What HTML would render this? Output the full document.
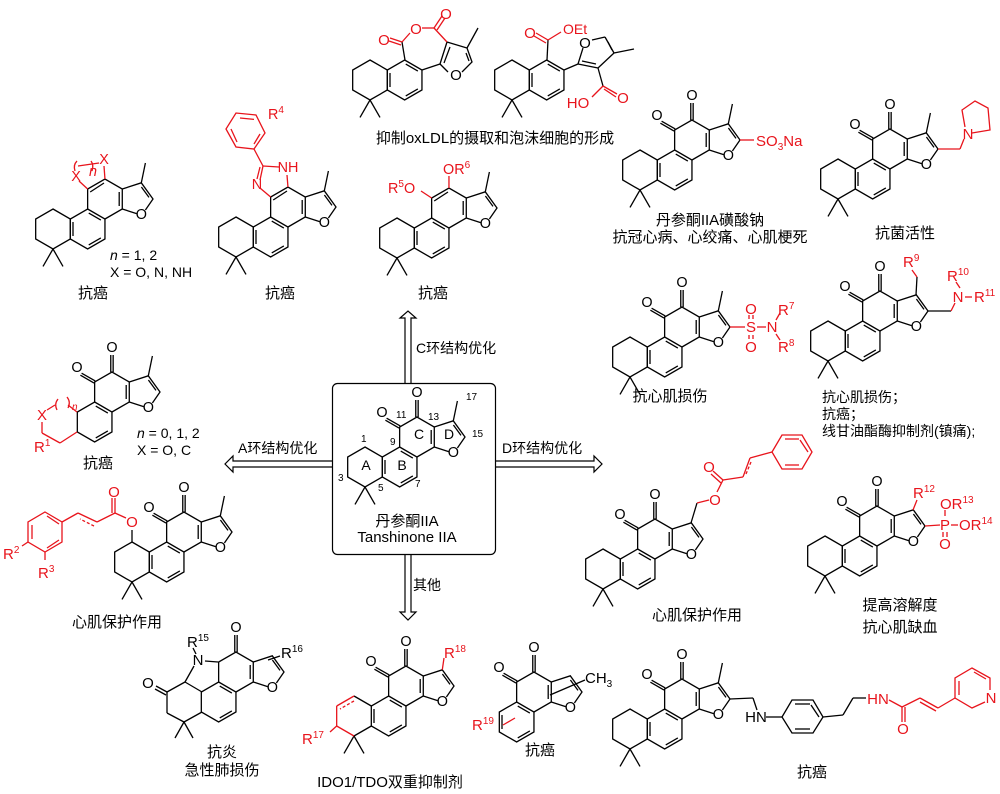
<!DOCTYPE html>
<html><head><meta charset="utf-8"><style>
html,body{margin:0;padding:0;background:#fff;}
svg{display:block;font-family:"Liberation Sans","Noto Sans CJK SC",sans-serif;}
.a{font-size:0.72px;text-anchor:middle;dominant-baseline:central;}
.t{font-size:15px;text-anchor:middle;}
.s{font-size:14px;}
.st{text-anchor:start;}
.r{fill:#e8141c;}
.ln{stroke:#000;stroke-width:1.3;fill:none;}
.rl{stroke:#e8141c;stroke-width:1.3;fill:none;}
.sub{font-size:10px;}
</style></head><body>
<svg width="1000" height="794" viewBox="0 0 1000 794" xmlns="http://www.w3.org/2000/svg">
<defs>
<g id="ab" stroke="#000" stroke-width="0.065" fill="none">
<polygon points="0,-1 0.866,-0.5 0.866,0.5 0,1 -0.866,0.5 -0.866,-0.5"/>
<polygon points="1.732,-1 2.598,-0.5 2.598,0.5 1.732,1 0.866,0.5 0.866,-0.5"/>
<line x1="1.0" y1="-0.35" x2="1.0" y2="0.35"/>
<line x1="2.393" y1="0.445" x2="1.787" y2="0.795"/>
<line x1="1.787" y1="-0.795" x2="2.393" y2="-0.445"/>
<line x1="0" y1="1" x2="-0.5" y2="1.87"/><line x1="0" y1="1" x2="0.5" y2="1.87"/>
</g>
<g id="b" stroke="#000" stroke-width="0.065" fill="none">
<polygon points="1.732,-1 2.598,-0.5 2.598,0.5 1.732,1 0.866,0.5 0.866,-0.5"/>
<line x1="2.393" y1="0.445" x2="1.787" y2="0.795"/>
<line x1="1.787" y1="-0.795" x2="2.393" y2="-0.445"/>
</g>
<g id="c" stroke="#000" stroke-width="0.065" fill="none">
<polyline points="1.732,-1 1.732,-2 2.598,-2.5 3.464,-2 3.464,-1 2.598,-0.5"/>
<line x1="3.31" y1="-1.85" x2="3.31" y2="-1.15"/>
</g>
<g id="ca" stroke="#000" stroke-width="0.065" fill="none">
<line x1="1.86" y1="-1.85" x2="2.55" y2="-2.3"/>
</g>
<g id="co" stroke="#000" stroke-width="0.065" fill="none">
<line x1="1.762" y1="-2.052" x2="1.08" y2="-2.44"/><line x1="1.702" y1="-1.948" x2="1.02" y2="-2.34"/>
<line x1="2.538" y1="-2.5" x2="2.538" y2="-3.35"/><line x1="2.658" y1="-2.5" x2="2.658" y2="-3.35"/>
</g>
<g id="fu" stroke="#000" stroke-width="0.065" fill="none">
<polyline points="3.464,-2 4.415,-2.309 5,-1.5 4.62,-0.95"/>
<line x1="3.464" y1="-1" x2="4.18" y2="-0.77"/>
<line x1="4.42" y1="-2.1" x2="4.8" y2="-1.58"/>
</g>
<g id="me" stroke="#000" stroke-width="0.065"><line x1="4.415" y1="-2.309" x2="4.62" y2="-3.3"/></g>
</defs>

<path d="M405,383 V318 H400 L408,311 L416,318 H411 V383" fill="#fff" stroke="#000" stroke-width="1.2"/>
<path d="M332,461 H233 V456 L225,464 L233,472 V467 H332" fill="#fff" stroke="#000" stroke-width="1.2"/>
<path d="M496,461 H594 V456 L602,464 L594,472 V467 H496" fill="#fff" stroke="#000" stroke-width="1.2"/>
<path d="M405,555 V612 H400 L408,620 L416,612 H411 V555" fill="#fff" stroke="#000" stroke-width="1.2"/>
<text x="238" y="453" class="s">A环结构优化</text>
<text x="416" y="353" class="s">C环结构优化</text>
<text x="502" y="453" class="s">D环结构优化</text>
<text x="413" y="590" class="s">其他</text>

<rect x="332.5" y="383.5" width="163" height="171" rx="5" fill="#fff" stroke="#000" stroke-width="1.2"/>
<g transform="translate(365,467) scale(20)"><use href="#ab"/><use href="#c"/><use href="#co"/><use href="#fu"/><use href="#me"/>
<text class="a" x="0.85" y="-2.7">O</text><text class="a" x="2.6" y="-3.7">O</text><text class="a" x="4.415" y="-0.69">O</text></g>
<g font-size="10">
<text x="361" y="442">1</text><text x="338" y="481">3</text><text x="378" y="491">5</text><text x="415" y="487">7</text><text x="390" y="445">9</text><text x="396" y="418">11</text><text x="428" y="420">13</text><text x="472" y="437">15</text><text x="466" y="400">17</text></g>
<g font-size="14" text-anchor="middle"><text x="366" y="470">A</text><text x="402" y="470">B</text><text x="419" y="439">C</text><text x="449" y="439">D</text></g>
<text x="407" y="526" class="t">丹参酮IIA</text>
<text x="407" y="542" class="t">Tanshinone IIA</text>

<g transform="translate(53,229) scale(20)"><use href="#ab"/><use href="#c"/><use href="#ca"/><use href="#fu"/><use href="#me"/>
<text class="a" x="4.415" y="-0.69">O</text>
<g stroke="#e8141c" stroke-width="0.065" fill="none"><line x1="1.732" y1="-2" x2="1.3" y2="-2.4"/><line x1="2.598" y1="-2.5" x2="2.55" y2="-3.15"/>
<path d="M1.1,-2.9 Q1.0,-3.2 1.2,-3.4"/><path d="M1.9,-3.4 Q2.05,-3.2 1.95,-2.9"/><line x1="1.25" y1="-3.15" x2="2.3" y2="-3.3"/></g>
<text class="a r" x="1.15" y="-2.6">X</text><text class="a r" x="2.55" y="-3.45">X</text>
<text class="a r" x="2.0" y="-2.85" font-style="italic" font-size="0.5">n</text></g>
<text x="110" y="260" class="s"><tspan font-style="italic">n</tspan> = 1, 2</text>
<text x="110" y="277" class="s">X = O, N, NH</text>
<text x="93" y="298" class="t">抗癌</text>

<g transform="translate(236,237) scale(20)"><use href="#ab"/><use href="#c"/><use href="#ca"/><use href="#fu"/><use href="#me"/>
<text class="a" x="4.415" y="-0.69">O</text>
<g stroke="#e8141c" stroke-width="0.065" fill="none"><line x1="1.732" y1="-2" x2="1.2" y2="-2.45"/><line x1="2.598" y1="-2.5" x2="2.55" y2="-3.1"/>
<line x1="1.2" y1="-2.85" x2="1.35" y2="-3.55"/><line x1="1.05" y1="-2.9" x2="1.2" y2="-3.5"/><line x1="1.35" y1="-3.55" x2="2.15" y2="-3.5"/>
<line x1="1.35" y1="-3.55" x2="0.9" y2="-4.4"/>
<polygon points="0.9,-4.4 1.45,-5.2 1.0,-6.1 0,-6.2 -0.5,-5.4 0,-4.5"/>
<line x1="0.2" y1="-5.95" x2="0.9" y2="-5.88"/><line x1="1.2" y1="-5.15" x2="0.9" y2="-4.65"/><line x1="-0.25" y1="-5.4" x2="0.05" y2="-4.75"/></g>
<text class="a r" x="1.05" y="-2.6">N</text><text class="a r" x="2.6" y="-3.45">NH</text>
<text class="r" x="1.6" y="-5.9" font-size="0.72">R<tspan font-size="0.5" dy="-0.3">4</tspan></text></g>
<text x="280" y="298" class="t">抗癌</text>

<g transform="translate(397,238) scale(20)"><use href="#ab"/><use href="#c"/><use href="#ca"/><use href="#fu"/><use href="#me"/>
<text class="a" x="4.415" y="-0.69">O</text>
<g stroke="#e8141c" stroke-width="0.065"><line x1="1.732" y1="-2" x2="1.2" y2="-2.35"/><line x1="2.598" y1="-2.5" x2="2.598" y2="-3.1"/></g>
<text class="r" x="-0.45" y="-2.25" font-size="0.72">R<tspan font-size="0.5" dy="-0.3">5</tspan><tspan dy="0.3">O</tspan></text>
<text class="r" x="2.3" y="-3.2" font-size="0.72">OR<tspan font-size="0.5" dy="-0.3">6</tspan></text></g>
<text x="433" y="298" class="t">抗癌</text>

<g transform="translate(370,80) scale(20)"><use href="#ab"/></g>
<g class="ln"><line x1="405" y1="60" x2="402" y2="42"/><polyline points="422,70 440,64"/>
<polyline points="447,42 467,48 472,62 462,72"/><line x1="440" y1="64" x2="448" y2="72"/><line x1="447" y1="42" x2="440" y2="64"/><line x1="450" y1="47" x2="444" y2="63"/><line x1="467" y1="48" x2="478" y2="28"/><line x1="466" y1="53" x2="469" y2="61"/></g>
<g class="rl"><line x1="402" y1="42" x2="410" y2="33"/><line x1="422" y1="28" x2="434" y2="28"/><line x1="434" y1="28" x2="447" y2="42"/><line x1="434" y1="28" x2="442" y2="16"/><line x1="437" y1="30" x2="445" y2="18"/><line x1="402" y1="42" x2="390" y2="38"/><line x1="401" y1="45" x2="389" y2="41"/></g>
<text x="384" y="45" class="t r">O</text><text x="416" y="34" class="t r">O</text><text x="446" y="19" class="t r">O</text>
<text x="456" y="80" class="t">O</text>

<g transform="translate(512,80) scale(20)"><use href="#ab"/></g>
<g class="ln"><line x1="547" y1="60" x2="548" y2="40"/><line x1="564" y1="70" x2="578" y2="64"/>
<line x1="578" y1="64" x2="583" y2="48"/><line x1="592" y1="40" x2="605" y2="37"/><line x1="605" y1="37" x2="614" y2="53"/><line x1="608" y1="42" x2="612" y2="50"/>
<line x1="614" y1="53" x2="598" y2="68"/><line x1="578" y1="64" x2="598" y2="68"/><line x1="582" y1="61" x2="596" y2="64"/><line x1="614" y1="53" x2="634" y2="49"/><line x1="598" y1="68" x2="603" y2="86"/></g>
<g class="rl"><line x1="548" y1="40" x2="561" y2="32"/><line x1="548" y1="40" x2="536" y2="33"/><line x1="546" y1="43" x2="534" y2="36"/>
<line x1="603" y1="86" x2="617" y2="94"/><line x1="604" y1="89" x2="616" y2="97"/><line x1="603" y1="86" x2="592" y2="97"/></g>
<text x="530" y="38" class="t r">O</text><text x="563" y="34" class="s r">OEt</text>
<text x="585" y="48" class="t">O</text><text x="623" y="103" class="t r">O</text><text x="578" y="108" class="t r">HO</text>
<text x="495" y="143" class="t">抑制oxLDL的摄取和泡沫细胞的形成</text>

<g transform="translate(640,170) scale(20)"><use href="#ab"/><use href="#c"/><use href="#co"/><use href="#fu"/><use href="#me"/>
<text class="a" x="0.85" y="-2.7">O</text><text class="a" x="2.6" y="-3.7">O</text><text class="a" x="4.415" y="-0.69">O</text></g>
<line class="rl" x1="740" y1="140" x2="754" y2="140"/>
<text x="756" y="146" class="t r st">SO<tspan class="sub" dy="4">3</tspan><tspan dy="-4">Na</tspan></text>
<text x="710" y="225" class="t">丹参酮IIA磺酸钠</text>
<text x="710" y="242" class="t">抗冠心病、心绞痛、心肌梗死</text>

<g transform="translate(838,179) scale(20)"><use href="#ab"/><use href="#c"/><use href="#co"/><use href="#fu"/><use href="#me"/>
<text class="a" x="0.85" y="-2.7">O</text><text class="a" x="2.6" y="-3.7">O</text><text class="a" x="4.415" y="-0.69">O</text></g>
<g class="rl"><line x1="938" y1="149" x2="960" y2="149"/><line x1="960" y1="149" x2="964" y2="139"/><polyline points="972,133 990,130 988,108 975,101 962,110 965,127"/></g>
<text x="968" y="139" class="t r">N</text>
<text x="905" y="238" class="t">抗菌活性</text>

<g transform="translate(630,357) scale(20)"><use href="#ab"/><use href="#c"/><use href="#co"/><use href="#fu"/><use href="#me"/>
<text class="a" x="0.85" y="-2.7">O</text><text class="a" x="2.6" y="-3.7">O</text><text class="a" x="4.415" y="-0.69">O</text></g>
<g class="rl"><line x1="730" y1="327" x2="745" y2="327"/><line x1="757" y1="327" x2="766" y2="327"/><line x1="749" y1="319" x2="749" y2="315"/><line x1="753" y1="319" x2="753" y2="315"/><line x1="749" y1="335" x2="749" y2="339"/><line x1="753" y1="335" x2="753" y2="339"/><line x1="776" y1="320" x2="780" y2="313"/><line x1="776" y1="334" x2="780" y2="340"/></g>
<text x="751" y="332" class="t r">S</text><text x="751" y="314" class="t r">O</text><text x="751" y="352" class="t r">O</text><text x="772" y="332" class="t r">N</text>
<text x="778" y="315" class="t r st">R<tspan class="sub" dy="-6">7</tspan></text>
<text x="778" y="352" class="t r st">R<tspan class="sub" dy="-6">8</tspan></text>
<text x="670" y="401" class="t">抗心肌损伤</text>

<g transform="translate(828,341) scale(20)"><use href="#ab"/><use href="#c"/><use href="#co"/><use href="#fu"/>
<text class="a" x="0.85" y="-2.7">O</text><text class="a" x="2.6" y="-3.7">O</text><text class="a" x="4.415" y="-0.69">O</text></g>
<g class="ln"><line x1="916" y1="295" x2="917" y2="277"/><line x1="928" y1="311" x2="951" y2="311"/></g>
<g class="rl"><line x1="917" y1="277" x2="912" y2="270"/><line x1="951" y1="311" x2="955" y2="303"/><line x1="960" y1="288" x2="956" y2="282"/><line x1="965" y1="297" x2="972" y2="297"/></g>
<text x="903" y="267" class="t r st">R<tspan class="sub" dy="-6">9</tspan></text>
<text x="958" y="302" class="t r">N</text>
<text x="947" y="281" class="t r st">R<tspan class="sub" dy="-6">10</tspan></text>
<text x="974" y="302" class="t r st">R<tspan class="sub" dy="-6">11</tspan></text>
<text x="822" y="402" class="s">抗心肌损伤；</text>
<text x="822" y="419" class="s">抗癌；</text>
<text x="822" y="436" class="s">线甘油酯酶抑制剂(镇痛);</text>

<g transform="translate(60,422) scale(20)"><use href="#b"/><use href="#c"/><use href="#co"/><use href="#fu"/><use href="#me"/>
<text class="a" x="0.85" y="-2.7">O</text><text class="a" x="2.6" y="-3.7">O</text><text class="a" x="4.415" y="-0.69">O</text></g>
<g class="rl"><line x1="77" y1="412" x2="68" y2="405"/><path d="M58,399 Q54,404 57,410"/><path d="M67,397 Q71,402 68,408"/><line x1="55" y1="405" x2="47" y2="410"/><line x1="42" y1="422" x2="42" y2="433"/><line x1="42" y1="433" x2="60" y2="443"/><line x1="60" y1="443" x2="77" y2="432"/></g>
<text x="42" y="420" class="t r">X</text>
<text x="72" y="410" class="r" font-size="10" font-style="italic">n</text>
<text x="34" y="452" class="t r st">R<tspan class="sub" dy="-6">1</tspan></text>
<text x="137" y="438" class="s"><tspan font-style="italic">n</tspan> = 0, 1, 2</text>
<text x="137" y="455" class="s">X = O, C</text>
<text x="98" y="468" class="t">抗癌</text>

<g transform="translate(132,562) scale(20)"><use href="#ab"/><use href="#c"/><use href="#co"/><use href="#fu"/><use href="#me"/>
<text class="a" x="0.85" y="-2.7">O</text><text class="a" x="2.6" y="-3.7">O</text><text class="a" x="4.415" y="-0.69">O</text></g>
<line class="ln" x1="132" y1="542" x2="132" y2="530"/>
<g class="rl"><line x1="126" y1="518" x2="115" y2="513"/><line x1="115" y1="513" x2="115" y2="498"/><line x1="112" y1="513" x2="112" y2="498"/><line x1="115" y1="513" x2="97" y2="522"/><line x1="97" y1="522" x2="78" y2="513"/><line x1="94" y1="526" x2="80" y2="519" stroke-dasharray="3,2"/><line x1="78" y1="513" x2="62" y2="522"/>
<polygon points="45,512 62,522 62,542 45,552 28,542 28,522"/><line x1="32" y1="525" x2="32" y2="539"/><line x1="47" y1="548" x2="59" y2="540"/><line x1="47" y1="516" x2="59" y2="524"/>
<line x1="28" y1="542" x2="22" y2="546"/><line x1="45" y1="552" x2="45" y2="560"/></g>
<text x="132" y="527" class="t r">O</text><text x="114" y="497" class="t r">O</text>
<text x="3" y="559" class="t r st">R<tspan class="sub" dy="-6">2</tspan></text>
<text x="38" y="578" class="t r st">R<tspan class="sub" dy="-6">3</tspan></text>
<text x="117" y="627" class="t">心肌保护作用</text>

<g transform="translate(603,569) scale(20)"><use href="#ab"/><use href="#c"/><use href="#co"/><use href="#fu"/>
<text class="a" x="0.85" y="-2.7">O</text><text class="a" x="2.6" y="-3.7">O</text><text class="a" x="4.415" y="-0.69">O</text></g>
<g class="ln"><line x1="691" y1="523" x2="697" y2="503"/></g>
<g class="rl"><line x1="697" y1="503" x2="709" y2="500"/><line x1="717" y1="492" x2="723" y2="480"/><line x1="723" y1="480" x2="713" y2="471"/><line x1="721" y1="483" x2="711" y2="474"/><line x1="723" y1="480" x2="743" y2="477"/><line x1="743" y1="477" x2="750" y2="458"/><line x1="746" y1="474" x2="751" y2="462" stroke-dasharray="3,2"/><line x1="750" y1="458" x2="772" y2="452"/>
<polygon points="772,452 782,435 802,435 812,452 802,469 782,469"/><line x1="785" y1="439" x2="799" y2="439"/><line x1="785" y1="465" x2="799" y2="465"/><line x1="808" y1="452" x2="800" y2="440"/></g>
<text x="715" y="505" class="t r">O</text><text x="709" y="472" class="t r">O</text>
<text x="697" y="620" class="t">心肌保护作用</text>

<g transform="translate(825,556) scale(20)"><use href="#ab"/><use href="#c"/><use href="#co"/><use href="#fu"/>
<text class="a" x="0.85" y="-2.7">O</text><text class="a" x="2.6" y="-3.7">O</text><text class="a" x="4.415" y="-0.69">O</text></g>
<g class="rl"><line x1="913" y1="510" x2="917" y2="500"/><line x1="925" y1="526" x2="940" y2="525"/><line x1="945" y1="516" x2="945" y2="510"/><line x1="951" y1="525" x2="958" y2="525"/><line x1="943" y1="532" x2="943" y2="537"/><line x1="947" y1="532" x2="947" y2="537"/></g>
<text x="913" y="498" class="t r st">R<tspan class="sub" dy="-6">12</tspan></text>
<text x="945" y="530" class="t r">P</text><text x="945" y="549" class="t r">O</text>
<text x="940" y="509" class="t r st">OR<tspan class="sub" dy="-6">13</tspan></text>
<text x="959" y="530" class="t r st">OR<tspan class="sub" dy="-6">14</tspan></text>
<text x="900" y="610" class="t">提高溶解度</text>
<text x="900" y="632" class="t">抗心肌缺血</text>

<g transform="translate(184,702) scale(20)"><use href="#b"/>
<g stroke="#000" stroke-width="0.065" fill="none"><polyline points="1.732,-1 1.732,-2 2.598,-2.5 3.464,-2 3.464,-1 2.598,-0.5"/><line x1="3.31" y1="-1.85" x2="3.31" y2="-1.15"/>
<line x1="2.538" y1="-2.5" x2="2.538" y2="-3.35"/><line x1="2.658" y1="-2.5" x2="2.658" y2="-3.35"/></g>
<use href="#fu"/>
<text class="a" x="2.6" y="-3.7">O</text><text class="a" x="4.415" y="-0.69">O</text></g>
<g class="ln"><line x1="218" y1="662" x2="205" y2="661"/><line x1="194" y1="666" x2="185" y2="682"/><line x1="185" y1="682" x2="202" y2="692"/><line x1="185" y1="682" x2="167" y2="692"/><line x1="167" y1="692" x2="156" y2="686"/><line x1="166" y1="695" x2="155" y2="689"/><line x1="167" y1="692" x2="167" y2="713"/><line x1="167" y1="713" x2="184" y2="722"/><line x1="184" y1="722" x2="202" y2="712"/><line x1="184" y1="722" x2="175" y2="738"/><line x1="184" y1="722" x2="193" y2="738"/><line x1="196" y1="654" x2="193" y2="648"/><line x1="268" y1="660" x2="280" y2="656"/></g>
<text x="198" y="665" class="t">N</text><text x="148" y="688" class="t">O</text>
<text x="187" y="647" class="t st">R<tspan class="sub" dy="-6">15</tspan></text>
<text x="281" y="658" class="t st">R<tspan class="sub" dy="-6">16</tspan></text>
<text x="222" y="757" class="t">抗炎</text>
<text x="222" y="775" class="t">急性肺损伤</text>

<g transform="translate(354,716) scale(20)"><use href="#b"/><use href="#c"/><use href="#co"/><use href="#fu"/>
<g stroke="#000" stroke-width="0.065"><line x1="0" y1="-1" x2="0.866" y2="-0.5"/><line x1="0" y1="1" x2="0.866" y2="0.5"/><line x1="0" y1="1" x2="-0.5" y2="1.87"/><line x1="0" y1="1" x2="0.5" y2="1.87"/><line x1="1.0" y1="-0.35" x2="1.0" y2="0.35"/></g>
<g stroke="#e8141c" stroke-width="0.065"><line x1="0" y1="-1" x2="-0.866" y2="-0.5"/><line x1="0" y1="-0.75" x2="-0.7" y2="-0.35" stroke-dasharray="0.15,0.1"/><line x1="-0.866" y1="-0.5" x2="-0.866" y2="0.5"/><line x1="-0.866" y1="0.5" x2="0" y2="1"/><line x1="-0.866" y1="0.5" x2="-1.2" y2="0.8"/><line x1="4.415" y1="-2.309" x2="4.5" y2="-2.9"/></g>
<text class="a" x="0.85" y="-2.7">O</text><text class="a" x="2.6" y="-3.7">O</text><text class="a" x="4.415" y="-0.69">O</text></g>
<text x="444" y="658" class="t r st">R<tspan class="sub" dy="-6">18</tspan></text>
<text x="302" y="744" class="t r st">R<tspan class="sub" dy="-6">17</tspan></text>
<text x="390" y="787" class="t">IDO1/TDO双重抑制剂</text>

<g transform="translate(482,722) scale(20)"><use href="#b"/><use href="#c"/><use href="#co"/><use href="#fu"/>
<g stroke="#000" stroke-width="0.065"><line x1="1.0" y1="-0.35" x2="1.0" y2="0.35"/></g>
<text class="a" x="0.85" y="-2.7">O</text><text class="a" x="2.6" y="-3.7">O</text><text class="a" x="4.415" y="-0.69">O</text></g>
<line class="ln" x1="550" y1="695" x2="585" y2="680"/><line class="rl" x1="503" y1="725" x2="515" y2="718"/>
<text x="585" y="683" class="t st">CH<tspan class="sub" dy="4">3</tspan></text>
<text x="472" y="730" class="t r st">R<tspan class="sub" dy="-6">19</tspan></text>
<text x="540" y="755" class="t">抗癌</text>

<g transform="translate(630,729) scale(20)"><use href="#ab"/><use href="#c"/><use href="#co"/><use href="#fu"/><use href="#me"/>
<text class="a" x="0.85" y="-2.7">O</text><text class="a" x="2.6" y="-3.7">O</text><text class="a" x="4.415" y="-0.69">O</text></g>
<g class="ln"><line x1="730" y1="699" x2="753" y2="698"/><line x1="753" y1="698" x2="757" y2="710"/><line x1="766" y1="717" x2="782" y2="717"/>
<polygon points="782,717 792,700 813,700 823,717 813,733 792,733"/><line x1="795" y1="704" x2="810" y2="704"/><line x1="795" y1="729" x2="810" y2="729"/><line x1="819" y1="717" x2="811" y2="705"/>
<line x1="823" y1="717" x2="843" y2="715"/><line x1="843" y1="715" x2="853" y2="698"/><line x1="853" y1="698" x2="866" y2="698"/></g>
<g class="rl"><line x1="889" y1="700" x2="902" y2="707"/><line x1="902" y1="707" x2="902" y2="722"/><line x1="905" y1="707" x2="905" y2="722"/><line x1="902" y1="707" x2="920" y2="698"/><line x1="920" y1="698" x2="938" y2="708"/><line x1="920" y1="702" x2="936" y2="711"/><line x1="938" y1="708" x2="955" y2="698"/>
<polyline points="985,702 972,708 955,698 955,678 972,668 990,678 990,690"/><line x1="959" y1="681" x2="959" y2="695"/><line x1="974" y1="672" x2="986" y2="679"/></g>
<text x="756" y="722" class="t">HN</text>
<text x="878" y="704" class="t r">HN</text><text x="903" y="734" class="t r">O</text><text x="991" y="703" class="t r">N</text>
<text x="812" y="777" class="t">抗癌</text>
</svg>
</body></html>
